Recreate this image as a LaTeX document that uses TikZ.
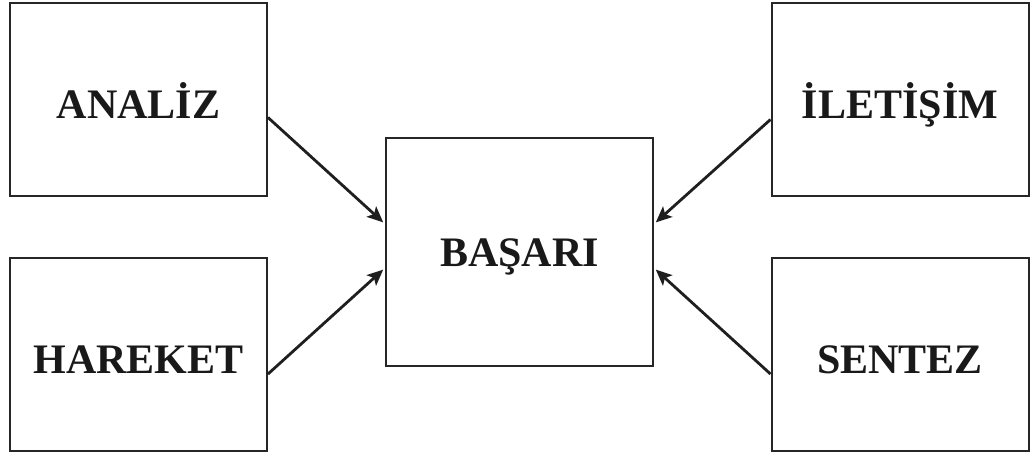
\documentclass[tikz,border=0pt]{standalone}
\usepackage{fontspec}
\setmainfont{Liberation Serif}
\usetikzlibrary{arrows.meta}
\begin{document}
\begin{tikzpicture}[x=0.5pt,y=-0.5pt,
  box/.style={draw=black!85, line width=1pt, inner sep=0pt,
    minimum width=128.5pt, minimum height=96.5pt,
    text=black!90, font=\bfseries\fontsize{21}{25}\selectfont,
    text height=18.5pt, text depth=0pt},
  hub/.style={box, minimum width=133.5pt, minimum height=114pt, text height=14pt},
  link/.style={draw=black!88, line width=1.4pt, shorten >=1.2pt,
    -{Stealth[length=8pt,width=7pt,inset=1.8pt]}}]
\useasboundingbox (0,0) rectangle (1033,456);

\node[box] (analiz)  at (138.5,99.5)  {ANALİZ};
\node[box] (hareket) at (138.5,354.5) {HAREKET};
\node[hub] (basari)  at (519.5,252)   {BAŞARI};
\node[box] (iletisim) at (900,99.5)   {İLETİŞİM};
\node[box] (sentez)  at (900,354.5)   {SENTEZ};

\draw[link] ([yshift=-9pt]analiz.east)    -- ([yshift=14pt]basari.west);
\draw[link] ([yshift=-9.75pt]hareket.east) -- ([yshift=-8pt]basari.west);
\draw[link] ([yshift=-10pt]iletisim.west) -- ([yshift=14pt]basari.east);
\draw[link] ([yshift=-9.75pt]sentez.west) -- ([yshift=-8pt]basari.east);
\end{tikzpicture}
\end{document}
